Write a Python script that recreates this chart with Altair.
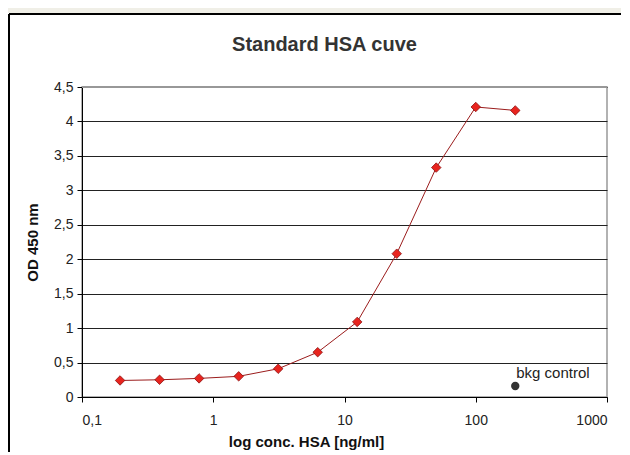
import altair as alt
import pandas as pd

conc = [0.195, 0.39, 0.78, 1.5625, 3.125, 6.25, 12.5, 25, 50, 100, 200]
od = [0.24, 0.25, 0.27, 0.30, 0.41, 0.65, 1.09, 2.08, 3.33, 4.21, 4.16]
bkg_conc = [200]
bkg_od = [0.16]
bkg_label = ["bkg control"]
x_ticks = [0.1, 1, 10, 100, 1000]
y_ticks = [0, 0.5, 1, 1.5, 2, 2.5, 3, 3.5, 4, 4.5]
chart_title = ["Standard HSA cuve"]

W, H = 525, 310
FONT = "Liberation Sans"

df = pd.DataFrame({"conc": conc, "od": od})
bkg = pd.DataFrame({"conc": bkg_conc, "od": bkg_od, "label": bkg_label})
tdf = pd.DataFrame({"t": chart_title})

xscale = alt.Scale(type="log", domain=[0.1, 1000], nice=False)
yscale = alt.Scale(domain=[0, 4.5], nice=False, zero=True)

xaxis = alt.Axis(
    values=x_ticks, title="log conc. HSA [ng/ml]", grid=False,
    labelExpr="replace(format(datum.value, ''), '.', ',')",
    tickSize=5, tickColor="#000", domainColor="#000",
    labelPadding=11, labelFontSize=14, labelColor="#222", labelFont=FONT,
    titleFont=FONT, titleFontSize=15, titleFontWeight="bold", titleColor="#111",
    titleX=224, titleY=49, titleBaseline="alphabetic", titleAnchor="middle",
)
yaxis = alt.Axis(
    values=y_ticks, title="OD 450 nm",
    labelExpr="replace(format(datum.value, ''), '.', ',')",
    labelOverlap=False,
    grid=True, gridColor="#222222", gridWidth=1,
    tickSize=5, tickColor="#000", domainColor="#000",
    labelPadding=4, labelFontSize=14, labelColor="#222", labelFont=FONT,
    titleFont=FONT, titleFontSize=15, titleFontWeight="bold", titleColor="#111",
    titleX=-50, titleY=H / 2, titleAngle=-90, titleAlign="center", titleBaseline="middle",
)

X = alt.X("conc:Q", scale=xscale, axis=xaxis)
Y = alt.Y("od:Q", scale=yscale, axis=yaxis)

base = alt.Chart(df)

line = base.mark_line(color="#9b1c1c", strokeWidth=1).encode(x=X, y=Y)
pts = base.mark_point(shape="diamond", filled=True, fill="#e8241e", stroke="#8b1010",
                      strokeWidth=0.8, size=90, opacity=1).encode(x=X, y=Y)
bkg_pt = alt.Chart(bkg).mark_circle(color="#333333", size=70, opacity=1).encode(x=X, y=Y)
bkg_txt = alt.Chart(bkg).mark_text(align="left", baseline="alphabetic", dx=1, dy=-8,
                                   font=FONT, fontSize=15, color="#222").encode(
    x=X, y=Y, text="label:N",
)

# outer frame decorations (beige strip and black border)
strip = alt.Chart(df).mark_rect(color="#f0efe7", clip=False).encode(
    x=alt.value(-79), x2=alt.value(W + 20), y=alt.value(-79), y2=alt.value(-74)
)
top_border = alt.Chart(df).mark_rule(color="#000", strokeWidth=2, clip=False).encode(
    x=alt.value(-73), x2=alt.value(W + 20), y=alt.value(-73)
)
left_border = alt.Chart(df).mark_rule(color="#000", strokeWidth=2, clip=False).encode(
    x=alt.value(-73), y=alt.value(-73), y2=alt.value(H + 60)
)
# grey plot-area frame (top)
frame_top = alt.Chart(df).mark_rule(color="#999999", strokeWidth=1.5).encode(
    x=alt.value(0), x2=alt.value(W), y=alt.value(0)
)
title_txt = alt.Chart(tdf).mark_text(align="center", baseline="alphabetic",
                                     font=FONT, fontSize=20, fontWeight="bold",
                                     color="#333333").encode(
    x=alt.value(W / 2 - 20), y=alt.value(-36), text="t:N"
)

chart = alt.layer(strip, top_border, left_border, frame_top, line, pts, bkg_pt, bkg_txt,
                  title_txt).properties(
    width=W, height=H,
    autosize=alt.AutoSizeParams(type="none"),
    padding={"left": 74, "top": 79, "right": 14, "bottom": 55},
    background="white",
).configure_view(stroke="#999999", strokeWidth=1.5)

chart.save("out.html", embed_options={"renderer": "svg", "actions": False})
